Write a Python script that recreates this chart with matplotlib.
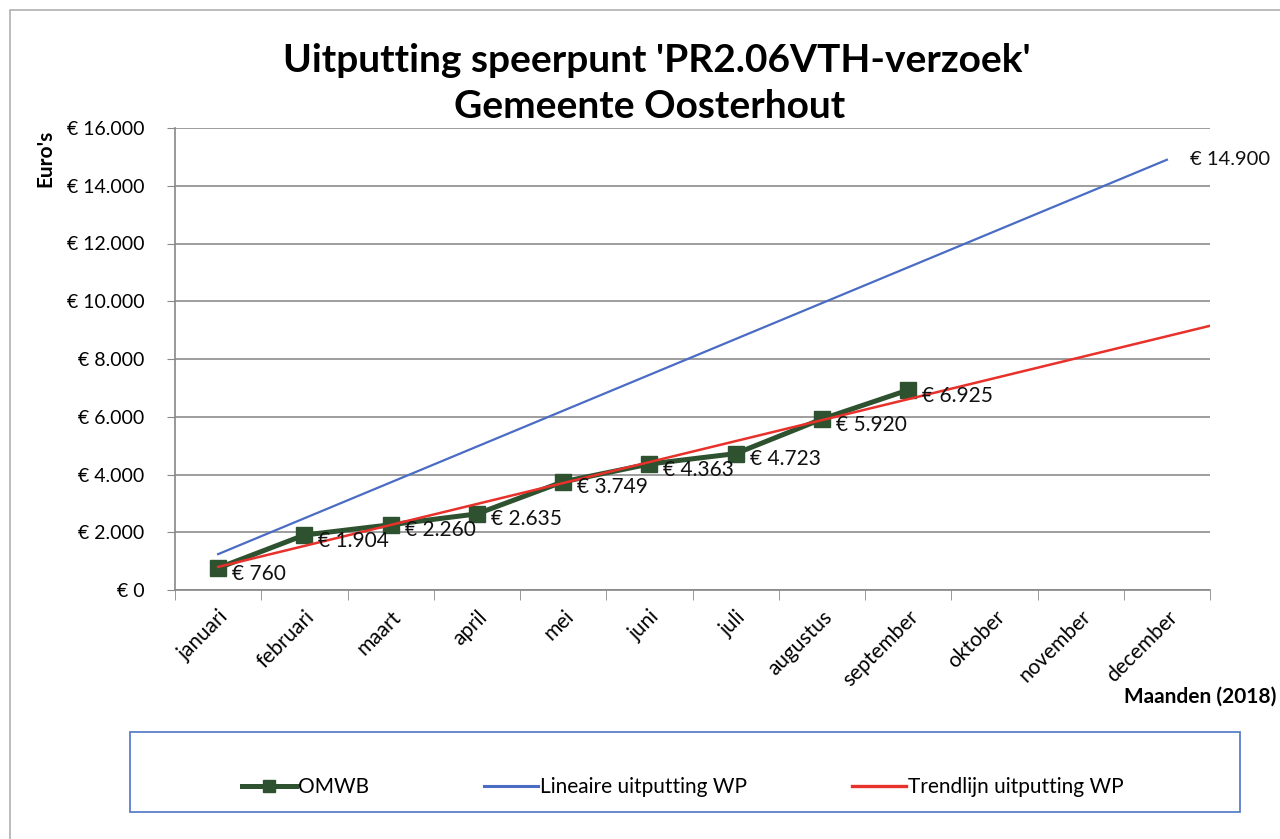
import matplotlib.pyplot as plt
from matplotlib.patches import Rectangle
from matplotlib.lines import Line2D

# Data
months = ['januari', 'februari', 'maart', 'april', 'mei', 'juni', 'juli',
          'augustus', 'september', 'oktober', 'november', 'december']
omwb = [760, 1904, 2260, 2635, 3749, 4363, 4723, 5920, 6925]
omwb_labels = ['€ 760', '€ 1.904', '€ 2.260', '€ 2.635', '€ 3.749',
               '€ 4.363', '€ 4.723', '€ 5.920', '€ 6.925']
lineair_pos = [0, 11]
lineair_vals = [1242, 14900]
trend_pos = [0, 11.5]
trend_vals = [800, 9150]
y_ticks = [0, 2000, 4000, 6000, 8000, 10000, 12000, 14000, 16000]
y_labels = ['€ 0', '€ 2.000', '€ 4.000', '€ 6.000', '€ 8.000',
            '€ 10.000', '€ 12.000', '€ 14.000', '€ 16.000']

plt.rcParams['font.family'] = ['Lato', 'DejaVu Sans']

green = '#2e5230'
blue = '#4a6cc4'
red = '#e8312b'

fig = plt.figure(figsize=(12.8, 8.39), dpi=100)
ax = fig.add_axes([175 / 1280, 1 - 590 / 839, 1035 / 1280, 462 / 839])

# lines
ax.plot(lineair_pos, lineair_vals, color=blue, linewidth=1.6, zorder=2)
ax.plot(range(len(omwb)), omwb, color=green, linewidth=3.6, marker='s',
        markersize=11.5, zorder=3)
ax.plot(trend_pos, trend_vals, color=red, linewidth=1.8, zorder=4)

# data labels
for i, (v, lab) in enumerate(zip(omwb, omwb_labels)):
    ax.annotate(lab, (i, v), xytext=(10, -4), textcoords='offset points',
                va='center', ha='left', fontsize=15, color='#111111',
                zorder=5)
ax.annotate('€ 14.900', (lineair_pos[-1], lineair_vals[-1]), xytext=(17, 0),
            textcoords='offset points', va='center', ha='left', fontsize=14.5,
            color='#111111', annotation_clip=False)

# axes
ax.set_xlim(-0.5, 11.5)
ax.set_ylim(0, 16000)
ax.set_yticks(y_ticks)
ax.set_yticklabels(y_labels, fontsize=14)
ax.set_xticks(range(len(months)))
ax.set_xticklabels(months, rotation=45, ha='right', rotation_mode='anchor',
                   fontsize=15)
ax.tick_params(axis='x', which='major', length=0, pad=12)
ax.set_xticks([i - 0.5 for i in range(len(months) + 1)], minor=True)
ax.tick_params(axis='x', which='minor', length=7, color='#888888')
ax.tick_params(axis='y', length=6, color='#888888', pad=16)
ax.grid(axis='y', color='#8c8c8c', linewidth=1.2)
ax.set_axisbelow(True)
for s in ['top', 'right']:
    ax.spines[s].set_visible(False)
for s in ['left', 'bottom']:
    ax.spines[s].set_color('#888888')
    ax.spines[s].set_linewidth(1.2)

# titles
fig.text(657 / 1280, 1 - 60 / 839, "Uitputting speerpunt 'PR2.06VTH-verzoek'",
         ha='center', va='center', fontsize=28, fontweight='bold')
fig.text(650 / 1280, 1 - 106 / 839, 'Gemeente Oosterhout',
         ha='center', va='center', fontsize=28, fontweight='bold')
fig.text(45 / 1280, 1 - 158 / 839, "Euro's", rotation=90, ha='center',
         va='center', fontsize=15, fontweight='bold')
fig.text(1276 / 1280, 1 - 697 / 839, 'Maanden (2018)', ha='right',
         va='center', fontsize=15, fontweight='bold')

# outer chart border
fig.patches.append(Rectangle((10 / 1280, -0.1), 1.2, 1 - 10 / 839 + 0.1,
                             transform=fig.transFigure, fill=False,
                             edgecolor='#b0b0b0', linewidth=1.2))

# legend box
fig.patches.append(Rectangle((130 / 1280, 1 - 812 / 839), 1110 / 1280,
                             80 / 839, transform=fig.transFigure, fill=False,
                             edgecolor='#5b7fc8', linewidth=1.3))
entries = [
    (Line2D([], [], color=green, linewidth=3.6, marker='s', markersize=9),
     'OMWB', 242),
    (Line2D([], [], color=blue, linewidth=2.2), 'Lineaire uitputting WP', 484),
    (Line2D([], [], color=red, linewidth=2.4), 'Trendlijn uitputting WP', 852),
]
for handle, label, xpix in entries:
    fig.legend([handle], [label], loc='center left',
               bbox_to_anchor=(xpix / 1280, 1 - 787 / 839), frameon=False,
               fontsize=15, handlelength=2.6, handletextpad=0.1,
               borderpad=0, borderaxespad=0)

fig.savefig('out.png', dpi=100, facecolor='white')
